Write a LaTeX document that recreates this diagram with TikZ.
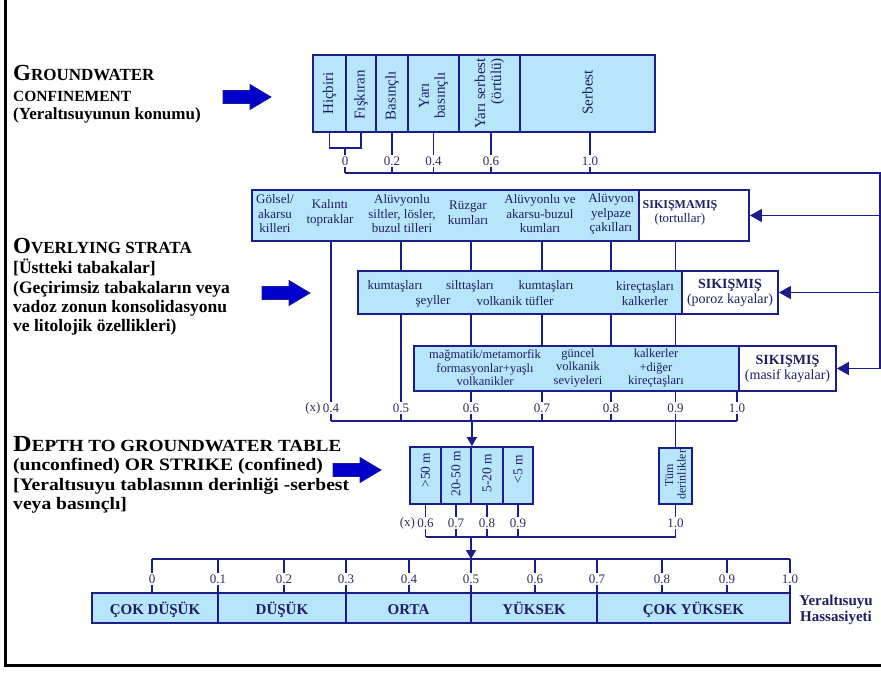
\documentclass[tikz,border=0pt]{standalone}
\usepackage{fontspec}
\setmainfont{Liberation Serif}
\newfontfamily\widefont[FakeStretch=1.12]{Liberation Serif}
\usetikzlibrary{arrows.meta}
\definecolor{cellblue}{RGB}{183,229,250}
\definecolor{lnavy}{RGB}{28,28,140}
\definecolor{tnavy}{RGB}{30,30,100}
\definecolor{numcol}{RGB}{45,45,90}
\definecolor{ablue}{RGB}{0,0,205}
\newcommand\tcapbig[1]{{\fontsize{23}{23}\selectfont #1}}
\newcommand\tcapsmall[1]{{\fontsize{17}{20}\selectfont #1}}
\tikzset{
 cell/.style={draw=lnavy, line width=1.8pt, fill=cellblue, inner sep=0pt},
 wcell/.style={draw=lnavy, line width=1.8pt, fill=white, inner sep=0pt},
 btxt/.style={text=tnavy, align=center, font=\fontsize{13}{14.5}\selectfont, inner sep=0pt},
 stxt/.style={text=tnavy, align=center, font=\fontsize{12.5}{13.5}\selectfont, inner sep=0pt},
 vtxt/.style={text=tnavy, align=center, font=\fontsize{15}{16}\selectfont, inner sep=0pt, rotate=90},
 num/.style={text=numcol, font=\fontsize{13}{13}\selectfont, inner sep=1pt},
 conn/.style={draw=lnavy, line width=1.8pt},
 tipL/.style={-{Triangle[length=12pt,width=13pt]}},
 tipS/.style={-{Triangle[length=9pt,width=10pt]}},
 lefttxt/.style={anchor=base west, align=left, font=\bfseries\fontsize{17}{19}\selectfont, inner sep=0pt},
 lvl/.style={text=tnavy, font=\bfseries\fontsize{15}{16.5}\selectfont, inner sep=0pt},
 barrow/.pic={\filldraw[draw=lnavy, fill=ablue, line width=0.8pt] (-24,-6.5) -- (3,-6.5) -- (3,-12.5) -- (24,0) -- (3,12.5) -- (3,6.5) -- (-24,6.5) -- cycle;}
}
\begin{document}
\begin{tikzpicture}[x=1pt,y=-1pt]
\useasboundingbox (0,0) rectangle (881,676);
\fill[white] (0,0) rectangle (881,676);
\draw[line width=3pt,black] (5,-5) -- (5,665) -- (890,665);

% ---------------- left texts ----------------
\node[lefttxt] (gw1) at (13,81) {\tcapbig{G}\tcapsmall{ROUNDWATER}};
\node[lefttxt] (gw2) at (13,102) {{\fontsize{15.5}{19}\selectfont CONFINEMENT}};
\node[lefttxt] (gw3) at (13,120) {(Yeraltısuyunun konumu)};
\pic (arrA) at (247,97) {barrow};

\node[lefttxt, font=\bfseries\fontsize{17.5}{19}\selectfont] (os1) at (13,254) {\tcapbig{O}\tcapsmall{VERLYING STRATA}};
\node[lefttxt, font=\bfseries\fontsize{17.5}{19}\selectfont] (os2) at (13,274) {[Üstteki tabakalar]};
\node[lefttxt, font=\bfseries\fontsize{17.5}{19}\selectfont] (os3) at (13,294) {(Geçirimsiz tabakaların veya};
\node[lefttxt, font=\bfseries\fontsize{17.5}{19}\selectfont] (os4) at (13,313) {vadoz zonun konsolidasyonu};
\node[lefttxt, font=\bfseries\fontsize{17.5}{19}\selectfont] (os5) at (13,332) {ve litolojik özellikleri)};
\pic (arrB) at (286,293) {barrow};

\node[lefttxt, font=\widefont\bfseries\fontsize{17.5}{19}\selectfont] (dp1) at (13,451) {\tcapbig{D}\tcapsmall{EPTH TO GROUNDWATER TABLE}};
\node[lefttxt, font=\widefont\bfseries\fontsize{17.5}{19}\selectfont] (dp2) at (13,470) {(unconfined) OR STRIKE (confined)};
\node[lefttxt, font=\widefont\bfseries\fontsize{17.5}{19}\selectfont] (dp3) at (13,490) {[Yeraltısuyu tablasının derinliği -serbest};
\node[lefttxt, font=\widefont\bfseries\fontsize{17.5}{19}\selectfont] (dp4) at (13,509) {veya basınçlı]};
\pic (arrC) at (357,470) {barrow};

% ---------------- confinement box ----------------
\node[cell, minimum width=33, minimum height=77] (hic) at (329.5,93.5) {};
\node[cell, minimum width=30, minimum height=77] (fis) at (361,93.5) {};
\node[cell, minimum width=32, minimum height=77] (bas) at (392,93.5) {};
\node[cell, minimum width=51, minimum height=77] (ybas) at (433.5,93.5) {};
\node[cell, minimum width=61, minimum height=77] (yser) at (489.5,93.5) {};
\node[cell, minimum width=135, minimum height=77] (ser) at (587.5,93.5) {};
\node[vtxt, anchor=east] (hict) at (329.5,72) {Hiçbiri};
\node[vtxt, anchor=east] (fist) at (361,70) {Fışkıran};
\node[vtxt, anchor=east] (bast) at (392,71) {Basınçlı};
\node[vtxt, anchor=east] (ybast) at (433.5,72) {Yarı\\basınçlı};
\node[vtxt, anchor=east, align=right] (ysert) at (489.5,58) {Yarı serbest\\(örtülü)};
\node[vtxt, anchor=east] (sert) at (587.5,70) {Serbest};

\coordinate (brL) at (329.5,148);
\coordinate (brR) at (361,148);
\coordinate (brM) at (345,148);
\node[num] (c0) at (345,161) {0};
\node[num] (c02) at (392,161) {0.2};
\node[num] (c04) at (433.5,161) {0.4};
\node[num] (c06) at (491,161) {0.6};
\node[num] (c10) at (590,161) {1.0};
\coordinate (cl0) at (345,173);
\coordinate (clR) at (880,173);
\draw[conn] (hic.south) -- (brL) -- (brR) -- (fis.south);
\draw[conn] (brM) -- (c0.north);
\draw[conn] (c0.south) -- (cl0);
\foreach \n/\c in {c02/bas, c04/ybas, c06/yser, c10/ser}{
  \draw[conn] (\c.south -| \n) -- (\n.north);
  \draw[conn] (\n.south) -- (\n.south |- cl0);
}

% ---------------- strata box 1 ----------------
\node[cell, minimum width=387, minimum height=51] (s1) at (445.5,215.5) {};
\node[wcell, minimum width=110, minimum height=51] (tort) at (694,215.5) {};
\node[btxt] (g1) at (275,214) {Gölsel/\\akarsu\\killeri};
\node[btxt] (g2) at (330,213) {Kalıntı\\topraklar};
\node[btxt] (g3) at (402,214) {Alüvyonlu\\siltler, lösler,\\buzul tilleri};
\node[btxt] (g4) at (468,213) {Rüzgar\\kumları};
\node[btxt] (g5) at (540,214) {Alüvyonlu ve\\akarsu-buzul\\kumları};
\node[btxt] (g6) at (611,214) {Alüvyon\\yelpaze\\çakılları};
\node[btxt] (g7) at (680,213) {{\bfseries\fontsize{12}{14}\selectfont SIKIŞMAMIŞ}\\(tortullar)};

% ---------------- strata box 2 ----------------
\node[cell, minimum width=324, minimum height=43] (s2) at (520,292.5) {};
\node[wcell, minimum width=96, minimum height=43] (poroz) at (730,292.5) {};
\node[btxt] (k1) at (395,286) {kumtaşları};
\node[btxt] (k2) at (433,301) {şeyller};
\node[btxt] (k3) at (470,286) {silttaşları};
\node[btxt] (k4) at (515,301) {volkanik tüfler};
\node[btxt] (k5) at (546,286) {kumtaşları};
\node[btxt] (k6) at (645,293.5) {kireçtaşları\\kalkerler};
\node[btxt, font=\fontsize{14}{15.5}\selectfont] (k7) at (730,293) {\textbf{SIKIŞMIŞ}\\(poroz kayalar)};

% ---------------- strata box 3 ----------------
\node[cell, minimum width=325, minimum height=45] (s3) at (576.5,368.5) {};
\node[wcell, minimum width=97, minimum height=45] (masif) at (787.5,368.5) {};
\node[stxt] (m1) at (485,368) {mağmatik/metamorfik\\formasyonlar+yaşlı\\volkanikler};
\node[stxt] (m2) at (578,368) {güncel\\volkanik\\seviyeleri};
\node[stxt] (m3) at (656,368) {kalkerler\\+diğer\\kireçtaşları};
\node[btxt, font=\fontsize{14}{15.5}\selectfont] (m4) at (787.5,369) {\textbf{SIKIŞMIŞ}\\(masif kayalar)};

% right feedback line
\coordinate (rc3) at (880,368.5);
\draw[conn] (cl0) -- (clR) -- (rc3);
\draw[conn, tipL] (clR |- tort.east) -- (tort.east);
\draw[conn, tipL] (clR |- poroz.east) -- (poroz.east);
\draw[conn, tipL] (rc3) -- (masif.east);

% ---------------- strata ticks ----------------
\node[num] (o04) at (331,408) {0.4};
\node[num, anchor=east] (ox1) at (o04.west) {(x)};
\node[num] (o05) at (401,408) {0.5};
\node[num] (o06) at (471,408) {0.6};
\node[num] (o07) at (542,408) {0.7};
\node[num] (o08) at (611,408) {0.8};
\node[num] (o09) at (675.5,408) {0.9};
\node[num] (o10) at (737,408) {1.0};
\coordinate (ol) at (331,421);
\coordinate (or) at (737,421);
\draw[conn] (s1.south -| o04) -- (o04.north);
\draw[conn] (s1.south -| o05) -- (s2.north -| o05);
\draw[conn] (s2.south -| o05) -- (o05.north);
\foreach \n in {o06,o07,o08}{
  \draw[conn] (s1.south -| \n) -- (s2.north -| \n);
  \draw[conn] (s2.south -| \n) -- (s3.north -| \n);
  \draw[conn] (s3.south -| \n) -- (\n.north);
}
\draw[conn] (tort.south -| o09) -- (s2.north -| o09);
\draw[conn] (s2.south -| o09) -- (s3.north -| o09);
\draw[conn] (s3.south -| o09) -- (o09.north);
\draw[conn] (s3.south -| o10) -- (o10.north);
\foreach \n in {o04,o05,o06,o07,o08,o09,o10}{
  \draw[conn] (\n.south) -- (\n.south |- ol);
}
\draw[conn] (ol) -- (or);

% ---------------- depth boxes ----------------
\node[cell, minimum width=31, minimum height=57] (d1) at (425.5,475.5) {};
\node[cell, minimum width=30, minimum height=57] (d2) at (456,475.5) {};
\node[cell, minimum width=32, minimum height=57] (d3) at (487,475.5) {};
\node[cell, minimum width=30, minimum height=57] (d4) at (518,475.5) {};
\node[cell, minimum width=33, minimum height=56] (tum) at (675.5,476) {};
\node[vtxt, font=\fontsize{13.5}{14}\selectfont] (d1t) at (425.5,470) {>50 m};
\node[vtxt, font=\fontsize{13.5}{14}\selectfont] (d2t) at (456,474) {20-50 m};
\node[vtxt, font=\fontsize{13.5}{14}\selectfont] (d3t) at (487,473) {5-20 m};
\node[vtxt, font=\fontsize{13.5}{14}\selectfont] (d4t) at (518,469) {<5 m};
\node[vtxt, font=\fontsize{12}{12.5}\selectfont] (tumt) at (675.5,475) {Tüm\\derinlikler};
\draw[conn, tipS] (d2.north east |- ol) -- (d2.north east);
\draw[conn] (tum.north |- ol) -- (tum.north);

\node[num] (p06) at (425.5,523) {0.6};
\node[num, anchor=east] (px1) at (p06.west) {(x)};
\node[num] (p07) at (456,523) {0.7};
\node[num] (p08) at (487,523) {0.8};
\node[num] (p09) at (518,523) {0.9};
\node[num] (p10) at (675.5,523) {1.0};
\coordinate (pl) at (425.5,537);
\coordinate (pr) at (675.5,537);
\foreach \n/\c in {p06/d1,p07/d2,p08/d3,p09/d4,p10/tum}{
  \draw[conn] (\c.south) -- (\n.north);
  \draw[conn] (\n.south) -- (\n.south |- pl);
}
\draw[conn] (pl) -- (pr);

% ---------------- vulnerability scale ----------------
\node[cell, minimum width=126, minimum height=30] (b1) at (155,608) {};
\node[cell, minimum width=128, minimum height=30] (b2) at (282,608) {};
\node[cell, minimum width=125, minimum height=30] (b3) at (408.5,608) {};
\node[cell, minimum width=126, minimum height=30] (b4) at (534,608) {};
\node[cell, minimum width=193, minimum height=30] (b5) at (693.5,608) {};
\node[lvl, anchor=base] (b1t) at (155,614) {ÇOK DÜŞÜK};
\node[lvl, anchor=base] (b2t) at (282,614) {DÜŞÜK};
\node[lvl, anchor=base] (b3t) at (408.5,614) {ORTA};
\node[lvl, anchor=base] (b4t) at (534,614) {YÜKSEK};
\node[lvl, anchor=base] (b5t) at (693.5,614) {ÇOK YÜKSEK};
\node[lvl, align=center] (yh) at (836,610) {Yeraltısuyu\\Hassasiyeti};

\node[num] (v00) at (152,579) {0};
\node[num] (v01) at (218,579) {0.1};
\node[num] (v02) at (284,579) {0.2};
\node[num] (v03) at (346,579) {0.3};
\node[num] (v04) at (409,579) {0.4};
\node[num] (v05) at (471,579) {0.5};
\node[num] (v06) at (535,579) {0.6};
\node[num] (v07) at (597,579) {0.7};
\node[num] (v08) at (662,579) {0.8};
\node[num] (v09) at (727,579) {0.9};
\node[num] (v10) at (790,579) {1.0};
\coordinate (vl) at (152,559);
\coordinate (vr) at (790,559);
\draw[conn] (vl) -- (vr);
\foreach \n in {v00,v01,v02,v03,v04,v05,v06,v07,v08,v09,v10}{
  \draw[conn] (\n.south |- vl) -- (\n.north);
  \draw[conn] (\n.south) -- (\n.south |- b1.north);
}
\draw[conn, tipS] (v05 |- pl) -- (v05 |- vl);
\end{tikzpicture}
\end{document}
